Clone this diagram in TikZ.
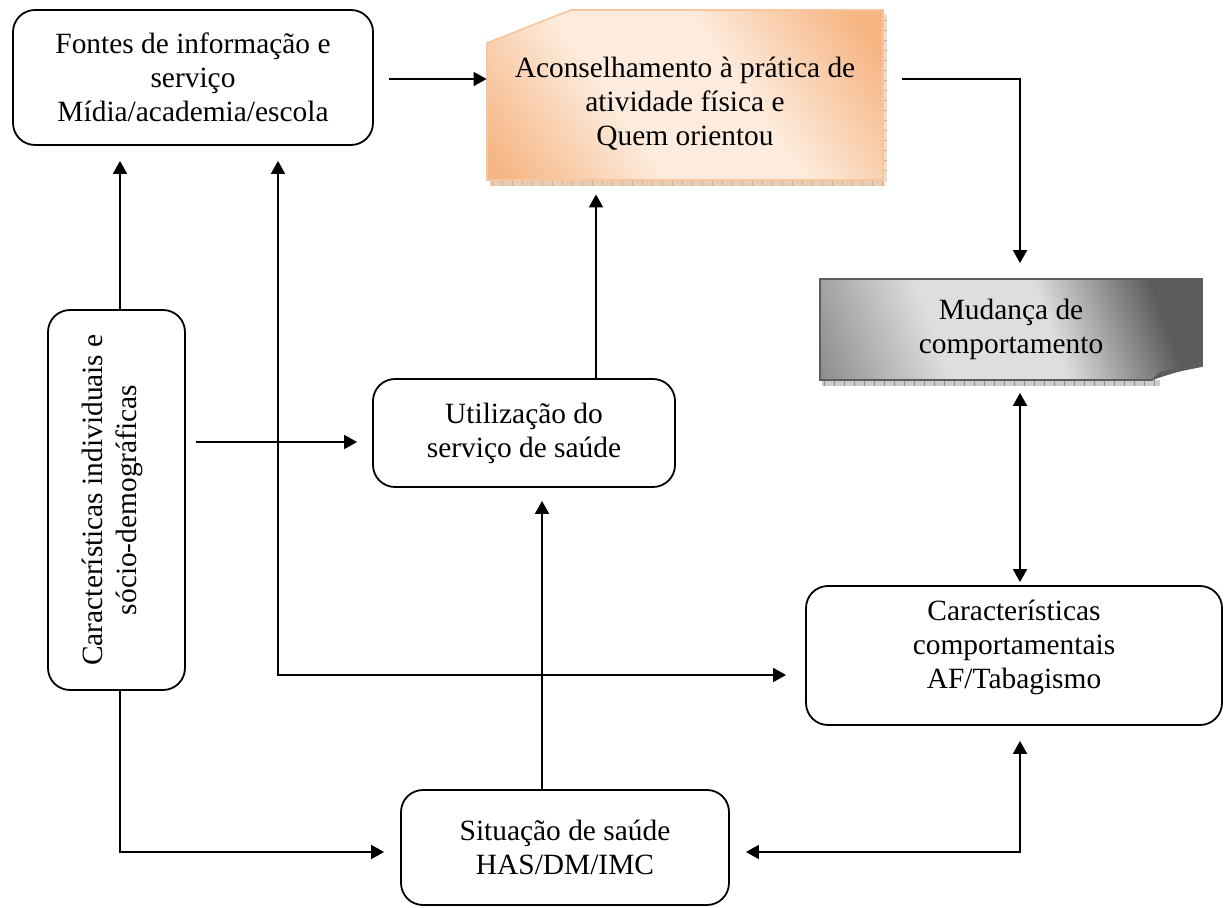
\documentclass[tikz,border=0pt]{standalone}
\usepackage{fontspec}
\setmainfont{Liberation Serif}
\usetikzlibrary{arrows.meta,calc}
\definecolor{pessego}{RGB}{246,182,132}
\definecolor{pessegoclaro}{RGB}{253,236,222}
\definecolor{pessegoborda}{RGB}{248,198,156}
\definecolor{faixa}{RGB}{214,172,134}
\definecolor{cinzaescuro}{RGB}{92,92,92}
\definecolor{cinzamedio}{RGB}{140,140,140}
\definecolor{cinzaclaro}{RGB}{222,222,222}
\pgfdeclarehorizontalshading{folhacinza}{100bp}{color(0bp)=(cinzamedio); color(18bp)=(cinzamedio);
  color(38bp)=(cinzaclaro); color(56bp)=(cinzaclaro); color(74bp)=(cinzaescuro); color(100bp)=(cinzaescuro)}
\pgfdeclarehorizontalshading{folhapessego}{100bp}{color(0bp)=(pessego); color(18bp)=(pessego);
  color(40bp)=(pessegoclaro); color(58bp)=(pessegoclaro); color(80bp)=(pessego); color(100bp)=(pessego)}
\tikzset{
  caixa/.style = {draw, rounded corners=11pt, line width=0.9pt, align=center,
    inner sep=0pt, font=\fontsize{14.7}{17}\selectfont},
  texto/.style = {align=center, inner sep=0pt, font=\fontsize{14.7}{17}\selectfont},
  seta/.style = {line width=0.9pt, -{Triangle[length=6.5pt,width=7pt]}},
  dupla/.style = {line width=0.9pt,
    {Triangle[length=6.5pt,width=7pt]}-{Triangle[length=6.5pt,width=7pt]}}
}

\begin{document}
\begin{tikzpicture}[x=0.5pt,y=-0.5pt]
\useasboundingbox (0,0) rectangle (1225,908);

\fill[faixa!60] (490,180) rectangle (885,186);
\foreach \x in {492,502,...,882}
  \draw[faixa, line width=0.3pt] (\x,180) -- (\x,186);
\fill[faixa!40] (883,14) rectangle (887,182);
\foreach \y in {20,30,...,175}
  \draw[faixa, line width=0.3pt] (883,\y) -- (887,\y);
\path[draw=pessegoborda, line width=0.8pt, shading=folhapessego, shading angle=35]
  (487,43) -- (571,10) -- (883,10) -- (883,180) -- (487,180) -- cycle;
\node[texto, minimum width=198pt, minimum height=85pt] (acons) at (685,104)
  {Aconselhamento à prática de\\atividade física e\\Quem orientou};

\fill[cinzaclaro!80!gray] (822,380) rectangle (1160,386);
\foreach \x in {824,834,...,1154}
  \draw[cinzamedio, line width=0.3pt] (\x,380) -- (\x,386);
\path[draw=cinzaescuro, line width=0.8pt, shading=folhacinza, shading angle=20]
  (820,279) -- (1202,279) -- (1202,366) .. controls (1185,370) and (1165,372) .. (1152,380)
  -- (820,380) -- cycle;
\fill[cinzaescuro] (1152,380) .. controls (1158,372) .. (1172,369) -- (1202,366)
  .. controls (1180,371) .. (1152,380);
\node[texto, minimum width=191pt, minimum height=50pt] (mud) at (1011,329.5)
  {Mudança de\\comportamento};

\node[caixa, minimum width=180pt, minimum height=67.5pt] (fontes) at (193,77.5)
  {Fontes de informação e\\serviço\\Mídia/academia/escola};
\node[caixa, minimum width=68.5pt, minimum height=190pt] (indiv) at (116.5,500) {};
\node[texto, rotate=90] (indivtxt) at (112,500)
  {Características individuais e\\sócio-demográficas};
\node[caixa, minimum width=151pt, minimum height=54pt] (util) at (524,433)
  {Utilização do\\serviço de saúde};
\node[caixa, minimum width=208pt, minimum height=69.5pt] (comp) at (1014,655.5)
  {Características\\comportamentais\\AF/Tabagismo\\[-6pt]};
\node[caixa, minimum width=164pt, minimum height=57.5pt] (situ) at (565,847.5)
  {Situação de saúde\\HAS/DM/IMC};

\coordinate (giro) at (1020,79);
\coordinate (xesq) at (120,0);
\coordinate (xmeio) at (278,675);
\coordinate (xutil) at (596,0);
\coordinate (xsitu) at (542,0);
\coordinate (yutil) at (0,442);
\coordinate (ybaixo) at (0,852);

\draw[seta, shorten <=7.5pt] (fontes.east |- giro) -- (acons.west |- giro);
\draw[seta, shorten <=9.5pt, shorten >=8pt] (acons.east |- giro) -- (giro) -- (giro |- mud.north);
\draw[dupla, shorten <=6.5pt, shorten >=1.5pt] (giro |- mud.south) -- (giro |- comp.north);
\draw[seta, shorten >=2.5pt] (xutil |- util.north) -- (xutil |- acons.south);
\draw[seta, shorten >=7.5pt] (xesq |- indiv.north) -- (xesq |- fontes.south);
\draw[seta, shorten <=5pt, shorten >=7.5pt] (indiv.east |- yutil) -- (util.west |- yutil);
\draw[dupla, shorten <=7.5pt, shorten >=9.5pt] (xmeio |- fontes.south) -- (xmeio) -- (xmeio -| comp.west);
\draw[seta, shorten >=6.5pt] (xsitu |- situ.north) -- (xsitu |- util.south);
\draw[seta, shorten >=8pt] (xesq |- indiv.south) -- (xesq |- ybaixo) -- (situ.west |- ybaixo);
\draw[dupla, shorten <=8pt, shorten >=7.5pt] (situ.east |- ybaixo) -| (giro |- comp.south);
\end{tikzpicture}
\end{document}
